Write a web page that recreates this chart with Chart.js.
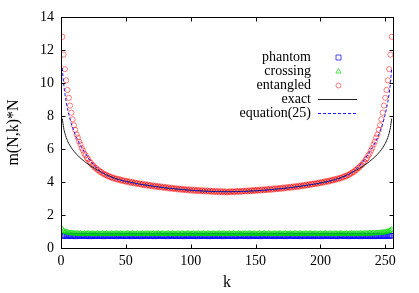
<!DOCTYPE html>
<html><head><meta charset="utf-8">
<script src="https://cdn.jsdelivr.net/npm/chart.js@4"></script>
<style>html,body{margin:0;padding:0;background:#fff;}canvas{display:block;}</style>
</head><body>
<canvas id="c" width="419" height="293"></canvas>
<script>
const kStart = 1;
const xTicks = [0, 50, 100, 150, 200, 250];
const yTicks = [0, 2, 4, 6, 8, 10, 12, 14];
const seriesNames = ['phantom', 'crossing', 'entangled', 'exact', 'equation(25)'];

const phantom = [
0.74,0.73,0.75,0.72,0.74,0.76,0.73,0.72,0.75,0.74,0.71,0.73,0.75,0.74,0.72,
0.73,0.76,0.74,0.72,0.73,0.75,0.71,0.74,0.73,0.76,0.72,0.74,0.75,0.73,0.72,
0.74,0.73,0.71,0.75,0.74,0.72,0.76,0.73,0.74,0.72,0.75,0.73,0.71,0.74,0.76,
0.72,0.74,0.73,0.75,0.72,0.73,0.74,0.76,0.71,0.73,0.75,0.74,0.72,0.73,0.75,
0.74,0.71,0.73,0.76,0.72,0.74,0.73,0.75,0.72,0.74,0.73,0.71,0.75,0.74,0.72,
0.76,0.73,0.74,0.72,0.75,0.73,0.71,0.74,0.76,0.72,0.73,0.75,0.74,0.72,0.73,
0.75,0.72,0.74,0.73,0.71,0.76,0.74,0.73,0.72,0.75,0.74,0.72,0.73,0.76,0.71,
0.74,0.73,0.75,0.72,0.74,0.73,0.76,0.72,0.71,0.74,0.75,0.73,0.72,0.74,0.76,
0.73,0.72,0.75,0.74,0.71,0.73,0.76,0.74,0.72,0.73,0.75,0.72,0.74,0.73,0.71,
0.75,0.74,0.72,0.76,0.73,0.74,0.72,0.75,0.73,0.71,0.74,0.76,0.72,0.73,0.75,
0.72,0.74,0.73,0.71,0.75,0.74,0.72,0.76,0.73,0.74,0.72,0.75,0.73,0.74,0.71,
0.74,0.76,0.72,0.73,0.75,0.74,0.72,0.71,0.74,0.73,0.76,0.72,0.75,0.73,0.74,
0.72,0.73,0.75,0.74,0.71,0.76,0.73,0.72,0.74,0.75,0.73,0.72,0.74,0.76,0.71,
0.73,0.75,0.72,0.74,0.73,0.71,0.75,0.74,0.72,0.76,0.73,0.74,0.72,0.75,0.73,
0.74,0.72,0.71,0.75,0.73,0.76,0.74,0.72,0.73,0.75,0.74,0.71,0.73,0.76,0.72,
0.74,0.73,0.75,0.72,0.74,0.71,0.76,0.73,0.74,0.72,0.75,0.73,0.74,0.72,0.75,
0.73,0.71,0.74,0.76,0.72,0.73,0.75,0.74,0.72,0.73,0.76,0.74,0.72,0.75,0.74];

const crossing = [
1.12,1.04,0.99,0.96,0.94,0.92,0.91,0.90,0.89,0.89,0.88,0.87,0.89,0.86,0.88,
0.87,0.85,0.88,0.86,0.87,0.89,0.85,0.86,0.88,0.87,0.84,0.86,0.88,0.87,0.85,
0.86,0.88,0.87,0.85,0.89,0.86,0.84,0.87,0.88,0.86,0.85,0.87,0.89,0.86,0.85,
0.88,0.86,0.87,0.84,0.86,0.88,0.87,0.85,0.86,0.89,0.87,0.85,0.86,0.88,0.84,
0.87,0.86,0.88,0.85,0.87,0.86,0.89,0.84,0.86,0.87,0.88,0.85,0.86,0.87,0.89,
0.85,0.86,0.88,0.87,0.84,0.86,0.87,0.88,0.85,0.86,0.89,0.87,0.85,0.86,0.88,
0.86,0.84,0.87,0.88,0.86,0.85,0.87,0.89,0.86,0.85,0.88,0.87,0.84,0.86,0.87,
0.88,0.85,0.86,0.87,0.89,0.86,0.84,0.87,0.88,0.85,0.86,0.87,0.88,0.85,0.86,
0.87,0.89,0.85,0.86,0.88,0.87,0.84,0.86,0.87,0.88,0.85,0.86,0.89,0.87,0.85,
0.86,0.88,0.87,0.84,0.86,0.87,0.88,0.85,0.86,0.89,0.87,0.85,0.86,0.88,0.86,
0.84,0.87,0.88,0.86,0.85,0.87,0.89,0.86,0.85,0.88,0.87,0.84,0.86,0.87,0.88,
0.85,0.86,0.87,0.89,0.86,0.84,0.87,0.88,0.85,0.86,0.87,0.88,0.85,0.86,0.87,
0.89,0.85,0.86,0.88,0.87,0.84,0.86,0.87,0.88,0.85,0.86,0.89,0.87,0.85,0.86,
0.88,0.86,0.84,0.87,0.88,0.86,0.85,0.87,0.89,0.86,0.85,0.88,0.87,0.84,0.86,
0.87,0.88,0.85,0.86,0.87,0.89,0.86,0.84,0.87,0.88,0.85,0.86,0.87,0.88,0.86,
0.87,0.85,0.88,0.86,0.87,0.89,0.86,0.88,0.87,0.89,0.88,0.87,0.90,0.88,0.89,
0.90,0.89,0.91,0.90,0.91,0.92,0.93,0.93,0.95,0.96,0.98,1.00,1.03,1.07,1.12];

const entangled = [
12.8,11.72,10.84,10.16,9.58,9.1,8.63,8.2,7.8,7.44,7.16,6.88,6.69,6.45,6.28,
6.06,5.91,5.72,5.61,5.45,5.37,5.22,5.16,5.03,4.99,4.87,4.85,4.74,4.72,4.62,
4.61,4.52,4.51,4.43,4.44,4.35,4.36,4.29,4.30,4.22,4.25,4.18,4.20,4.13,4.17,
4.09,4.13,4.05,4.09,4.02,4.06,3.98,4.03,3.95,4.00,3.92,3.97,3.89,3.94,3.87,
3.91,3.84,3.89,3.81,3.86,3.79,3.84,3.77,3.81,3.74,3.79,3.72,3.77,3.70,3.75,
3.68,3.73,3.66,3.71,3.64,3.69,3.62,3.67,3.60,3.65,3.59,3.63,3.57,3.62,3.55,
3.60,3.54,3.59,3.52,3.57,3.51,3.56,3.50,3.55,3.48,3.54,3.47,3.53,3.46,3.52,
3.45,3.51,3.44,3.50,3.43,3.49,3.42,3.48,3.42,3.47,3.41,3.46,3.40,3.46,3.39,
3.45,3.38,3.44,3.38,3.44,3.37,3.43,3.37,
3.40,3.43,3.38,3.44,3.41,3.39,3.45,3.41,3.46,3.40,3.45,3.42,3.47,3.43,3.48,
3.43,3.49,3.44,3.50,3.46,3.51,3.46,3.52,3.48,3.53,3.48,3.55,3.50,3.55,3.51,
3.57,3.52,3.58,3.53,3.60,3.55,3.61,3.56,3.62,3.58,3.64,3.59,3.66,3.61,3.67,
3.63,3.69,3.65,3.71,3.66,3.73,3.68,3.75,3.70,3.77,3.72,3.79,3.75,3.81,3.77,
3.84,3.80,3.86,3.82,3.89,3.85,3.91,3.88,3.94,3.90,3.97,3.93,4.00,3.96,4.03,
3.99,4.06,4.02,4.09,4.06,4.13,4.10,4.17,4.14,4.21,4.18,4.25,4.23,4.30,4.29,
4.36,4.35,4.43,4.43,4.51,4.52,4.61,4.62,4.72,4.74,4.85,4.88,4.99,5.03,5.16,
5.22,5.37,5.45,5.61,5.72,5.91,6.06,6.28,6.45,6.69,6.88,7.16,7.44,7.8,8.2,
8.63,9.1,9.58,10.16,10.84,11.72,12.8];

const kLine = [1,2,3,4,5,6,7,8,9,10,12,14,16,18,20,22,24,26,28,30,35,40,45,50,60,70,80,90,100,110,120,128,
136,146,156,166,176,186,196,206,211,216,221,226,228,230,232,234,236,238,240,242,244,246,247,248,249,250,251,252,253,254,255];

const exact = [7.85,7.3,6.95,6.7,6.5,6.33,6.2,6.07,5.96,5.86,5.68,5.52,5.38,5.25,5.13,5.02,4.92,4.82,4.73,4.64,4.44,4.27,4.14,4.04,3.88,3.76,3.65,3.57,3.5,3.45,3.42,3.41,
3.42,3.45,3.5,3.57,3.65,3.76,3.88,4.04,4.14,4.27,4.44,4.64,4.73,4.82,4.92,5.02,5.13,5.25,5.38,5.52,5.68,5.86,5.96,6.07,6.2,6.33,6.5,6.7,6.95,7.3,7.85];

const equation25 = [10.9,10.0,9.35,8.85,8.45,8.1,7.8,7.53,7.29,7.07,6.68,6.36,6.08,5.83,5.58,5.35,5.15,4.97,4.81,4.67,4.42,4.25,4.13,4.03,3.88,3.76,3.65,3.57,3.5,3.45,3.42,3.41,
3.42,3.45,3.5,3.57,3.65,3.76,3.88,4.03,4.13,4.25,4.42,4.67,4.81,4.97,5.15,5.35,5.58,5.83,6.08,6.36,6.68,7.07,7.29,7.53,7.8,8.1,8.45,8.85,9.35,10.0,10.9];

const pts = (vals) => vals.map((v, i) => ({x: i + kStart, y: v}));
const linePts = (vals) => vals.map((v, i) => ({x: kLine[i], y: v}));

const FONT = '"Liberation Serif", "Times New Roman", serif';

const frame = {
  id: 'frame',
  afterDraw(chart) {
    const {ctx, chartArea: a, scales: {x, y}} = chart;
    ctx.save();
    ctx.strokeStyle = '#000';
    ctx.lineWidth = 1;
    const L = Math.round(a.left) + 0.5, R = Math.round(a.right) + 0.5;
    const T = Math.round(a.top) + 0.5, B = Math.round(a.bottom) + 0.5;
    ctx.strokeRect(L, T, R - L, B - T);
    const tl = 4;
    ctx.beginPath();
    xTicks.forEach(v => {
      const px = Math.round(x.getPixelForValue(v)) + 0.5;
      ctx.moveTo(px, B); ctx.lineTo(px, B - tl);
      ctx.moveTo(px, T); ctx.lineTo(px, T + tl);
    });
    yTicks.forEach(v => {
      const py = Math.round(y.getPixelForValue(v)) + 0.5;
      ctx.moveTo(L, py); ctx.lineTo(L + tl, py);
      ctx.moveTo(R, py); ctx.lineTo(R - tl, py);
    });
    ctx.stroke();

    // legend
    ctx.font = '14px ' + FONT;
    ctx.textAlign = 'right';
    ctx.textBaseline = 'middle';
    const ds = chart.data.datasets;
    ds.forEach((d, i) => {
      const yy = 57.5 + i * 14;
      ctx.fillStyle = '#000';
      ctx.fillText(d.label, 311, yy);
      const mx = 338.5;
      ctx.strokeStyle = d.borderColor;
      ctx.lineWidth = 1;
      ctx.setLineDash(d.borderDash || []);
      ctx.beginPath();
      if (d.pointStyle === 'rect') {
        ctx.rect(mx - 2.5, yy - 2.5, 5, 5);
      } else if (d.pointStyle === 'triangle') {
        ctx.moveTo(mx, yy - 3); ctx.lineTo(mx + 2.6, yy + 1.5); ctx.lineTo(mx - 2.6, yy + 1.5); ctx.closePath();
      } else if (d.pointStyle === 'circle' && d.pointRadius > 0) {
        ctx.arc(mx, yy, 2.5, 0, Math.PI * 2);
      } else {
        ctx.moveTo(318, yy); ctx.lineTo(357, yy);
      }
      ctx.stroke();
      ctx.setLineDash([]);
    });
    ctx.restore();
  }
};

new Chart(document.getElementById('c'), {
  type: 'scatter',
  data: {
    datasets: [
      {label: seriesNames[0], data: pts(phantom), pointStyle: 'rect', pointRadius: 3.3, borderColor: 'rgba(0,0,255,0.7)', backgroundColor: 'rgba(0,0,0,0)', pointBorderWidth: 1, borderWidth: 1, order: 5},
      {label: seriesNames[1], data: pts(crossing), pointStyle: 'triangle', pointRadius: 3, borderColor: 'rgba(0,220,0,0.7)', backgroundColor: 'rgba(0,0,0,0)', pointBorderWidth: 1, borderWidth: 1, order: 4},
      {label: seriesNames[2], data: pts(entangled), pointStyle: 'circle', pointRadius: 2.6, borderColor: 'rgba(255,0,0,0.5)', backgroundColor: 'rgba(0,0,0,0)', pointBorderWidth: 1, borderWidth: 1, order: 3},
      {label: seriesNames[3], data: linePts(exact), showLine: true, pointRadius: 0, pointStyle: 'circle', borderColor: '#222', borderWidth: 1, cubicInterpolationMode: 'monotone', order: 2},
      {label: seriesNames[4], data: linePts(equation25), showLine: true, pointRadius: 0, pointStyle: 'circle', borderColor: '#1a1aff', borderWidth: 1, borderDash: [3, 2], cubicInterpolationMode: 'monotone', order: 1}
    ]
  },
  options: {
    responsive: false,
    devicePixelRatio: 1,
    animation: false,
    events: [],
    layout: {padding: {left: 0, right: 26, top: 17, bottom: 0}},
    plugins: {legend: {display: false}, tooltip: {enabled: false}},
    scales: {
      x: {
        type: 'linear', min: 0, max: 256,
        afterBuildTicks: (s) => { s.ticks = xTicks.map(v => ({value: v})); },
        afterFit: (s) => { s.height = 45; },
        grid: {display: false, drawTicks: false},
        border: {display: false},
        ticks: {font: {family: FONT, size: 14}, color: '#000', padding: 5, maxRotation: 0},
        title: {display: true, text: 'k', font: {family: FONT, size: 16}, color: '#000', padding: {top: 0, bottom: 1}}
      },
      y: {
        type: 'linear', min: 0, max: 14,
        afterBuildTicks: (s) => { s.ticks = yTicks.map(v => ({value: v})); },
        afterFit: (s) => { s.width = 61; },
        grid: {display: false, drawTicks: false},
        border: {display: false},
        ticks: {font: {family: FONT, size: 14}, color: '#000', padding: 7},
        title: {display: true, text: 'm(N,k)*N', font: {family: FONT, size: 16}, color: '#000', padding: {top: 4, bottom: 0}}
      }
    }
  },
  plugins: [frame]
});
</script>
</body></html>
